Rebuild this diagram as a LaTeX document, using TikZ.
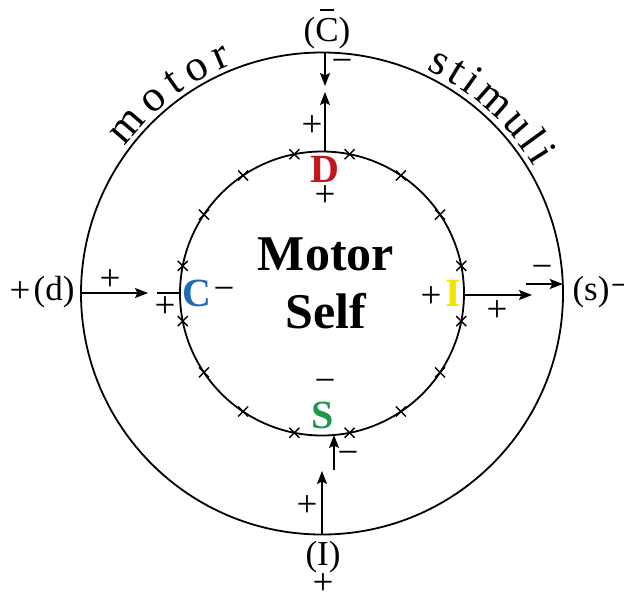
\documentclass[tikz,border=0pt]{standalone}
\usepackage{fontspec}
\setmainfont{Liberation Serif}
\usetikzlibrary{arrows.meta}
\definecolor{dred}{HTML}{C3161C}
\definecolor{cblue}{HTML}{1E6BB8}
\definecolor{iyel}{HTML}{F4E200}
\definecolor{sgreen}{HTML}{1B984A}
\begin{document}
\begin{tikzpicture}[x=1pt,y=-1pt,
  ring/.style={line width=1.8pt},
  tick/.style={line width=1.4pt},
  arr/.style={line width=1.7pt,-{Stealth[length=13pt,width=10pt,inset=2.5pt]}},
  seg/.style={line width=1.7pt},
  lab/.style={font=\fontsize{35}{37}\selectfont, inner sep=0pt},
  sgn/.style={font=\fontsize{37}{39}\selectfont, inner sep=0pt},
  key/.style={font=\fontsize{40}{42}\selectfont\bfseries, inner sep=0pt, anchor=base},
  arcl/.style={font=\fontsize{44}{46}\selectfont, inner sep=0pt, anchor=base},
  title/.style={font=\fontsize{50}{54}\selectfont\bfseries, inner sep=0pt, anchor=base}]
\useasboundingbox (0,0) rectangle (624,595);
\clip (0,0) rectangle (624,595);
\coordinate (c) at (322,293.5);
% circles
\draw[ring] (c) circle[radius=241pt];
\draw[ring] (c) circle[radius=142pt];
% cross ticks on inner circle
\foreach \a in {11.25,33.75,...,350}{
  \draw[tick] ([shift={(\a:142pt)}]c) +(-5pt,-5pt) -- +(5pt,5pt)
                                      +(-5pt,5pt) -- +(5pt,-5pt);
}
% arc text
\foreach \l/\a in {m/139.3,o/131.0,t/125.1,o/119.3,r/113.1}{
  \node[arcl, rotate=\a-90] at ([shift={(\a:246pt)}]c) {\l};
}
\foreach \l/\a in {s/63,t/58.6,i/54.7,m/48.4,u/41.0,l/36.1,i/32.2}{
  \node[arcl, rotate=\a-90] at ([shift={(\a:247pt)}]c) {\l};
}
% central title
\node[title] (m1) at (326,270) {Motor};
\node[title] (m2) at (326,328) {Self};
% key letters
\node[key, text=dred] (D) at (325,182) {D};
\node[key, text=cblue] (C) at (197,306) {C};
\node[key, text=iyel] (I) at (453,306) {I};
\node[key, text=sgreen] (S) at (323,428) {S};
% outer labels
\node[lab, anchor=base] (cb) at (327,41) {(\ooalign{\hfil\rule[0.86em]{0.42em}{0.045em}\hfil\cr C})};
\node[lab] (dl) at (54,292) {(d)};
\node[lab] (sl) at (591,292) {(s)};
\node[lab] (il) at (323,557) {(I)};
% signs
\node[sgn] (p1) at (342,66) {−};
\node[sgn] (p2) at (312,126) {+};
\node[sgn] (p3) at (325,196) {+};
\node[sgn] (p4) at (110,280) {+};
\node[sgn] (p5) at (165,307) {+};
\node[sgn] (p6) at (224,294) {−};
\node[sgn] (p7) at (431,297) {+};
\node[sgn] (p8) at (497,311) {+};
\node[sgn] (p9) at (542,272) {−};
\node[sgn] (p10) at (325,386) {−};
\node[sgn] (p11) at (348,458) {−};
\node[sgn] (p12) at (307,506) {+};
\node[sgn] (p13) at (323,584) {+};
\node[sgn] (p14) at (20,292) {+};
\node[sgn] (p15) at (621,291) {−};
% connector coordinates
\coordinate (oT) at (325,52.5);
\coordinate (tA) at (325,86);
\coordinate (iT) at (325,151.5);
\coordinate (tB) at (325,92);
\coordinate (oL) at (81,293);
\coordinate (tL) at (148,293);
\coordinate (lS) at (157,293);
\coordinate (iL) at (180,293);
\coordinate (iR) at (464,295);
\coordinate (tR) at (532,295);
\coordinate (sR) at (526,284);
\coordinate (oR) at (562.8,284);
\coordinate (oB) at (322,534.5);
\coordinate (tC) at (322,471);
\coordinate (sB) at (334,470);
\coordinate (iB) at (334,435);
% connectors
\draw[arr] (oT) -- (tA);
\draw[arr] (iT) -- (tB);
\draw[arr] (oL) -- (tL);
\draw[seg] (lS) -- (iL);
\draw[arr] (iR) -- (tR);
\draw[arr] (sR) -- (oR);
\draw[arr] (oB) -- (tC);
\draw[arr] (sB) -- (iB);
\end{tikzpicture}
\end{document}
